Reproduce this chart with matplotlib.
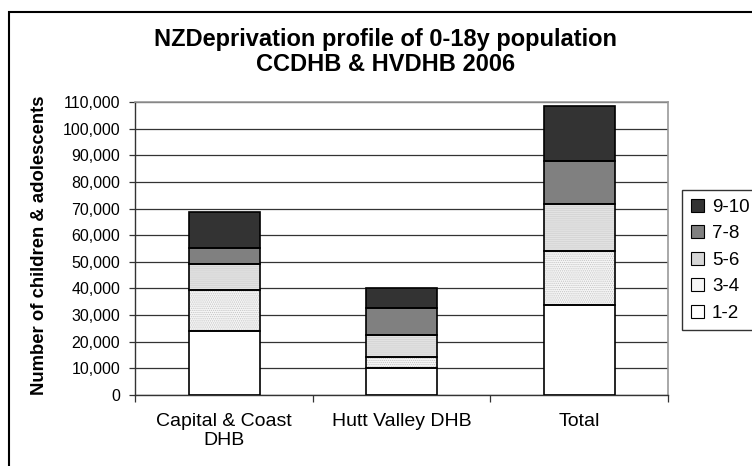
import matplotlib
matplotlib.use("Agg")
import matplotlib.pyplot as plt
import numpy as np
from matplotlib.patches import Patch, Rectangle
from matplotlib.ticker import FuncFormatter

plt.rcParams["font.family"] = ["Liberation Sans", "DejaVu Sans"]
plt.rcParams["hatch.linewidth"] = 0.6

# ------------------------------------------------------------------ data
categories = ["Capital & Coast\nDHB", "Hutt Valley DHB", "Total"]
quintiles = ["1-2", "3-4", "5-6", "7-8", "9-10"]
dep_1_2 = [24000, 9900, 33700]
dep_3_4 = [15300, 4400, 20300]
dep_5_6 = [9800, 8100, 17700]
dep_7_8 = [5900, 10300, 16300]
dep_9_10 = [13800, 7300, 20600]
y_ticks = list(range(0, 110001, 10000))

series = [dep_1_2, dep_3_4, dep_5_6, dep_7_8, dep_9_10]
# facecolor, hatch, hatch colour
styles = [
    ("white", None, None),
    ("#f6f6f6", "........", "#c4c4c4"),
    ("#d6d6d6", "--------", "#e6e6e6"),
    ("#808080", None, None),
    ("#333333", None, None),
]

fig = plt.figure(figsize=(7.52, 4.66), dpi=100)
ax = fig.add_axes([0.18, 0.153, 0.708, 0.6275])

x = np.arange(len(categories))
bottom = np.zeros(len(categories))
width = 0.40
for vals, (fc, hatch, hc) in zip(series, styles):
    vals = np.array(vals, dtype=float)
    if hatch:
        ax.bar(x, vals, width, bottom=bottom, color=fc, hatch=hatch,
               edgecolor=hc, linewidth=0, zorder=2)
    else:
        ax.bar(x, vals, width, bottom=bottom, color=fc, linewidth=0, zorder=2)
    ax.bar(x, vals, width, bottom=bottom, fill=False, edgecolor="black",
           linewidth=1.2, zorder=3)
    bottom += vals

# --------------------------------------------------------------- axes
ax.set_xlim(-0.5, 2.5)
ax.set_ylim(0, 110000)
ax.set_yticks(y_ticks)
ax.yaxis.set_major_formatter(FuncFormatter(lambda v, p: f"{int(v):,}"))
ax.yaxis.grid(True, color="#333333", linewidth=0.9, zorder=0)
ax.set_axisbelow(True)
ax.tick_params(axis="y", direction="out", length=4, width=0.9,
               color="#333333", pad=7, labelsize=11.5)

ax.set_xticks([-0.5, 0.5, 1.5, 2.5])
ax.set_xticklabels([])
ax.set_xticks(x, minor=True)
ax.set_xticklabels(categories, minor=True, fontsize=14, linespacing=1.2)
ax.tick_params(axis="x", which="major", direction="out", length=5,
               width=0.9, color="#333333")
ax.tick_params(axis="x", which="minor", length=0, pad=13)

for side in ("left", "bottom"):
    ax.spines[side].set_color("#333333")
    ax.spines[side].set_linewidth(1.0)
for side in ("top", "right"):
    ax.spines[side].set_color("#999999")
    ax.spines[side].set_linewidth(1.2)

# -------------------------------------------------------------- legend
handles = []
for name, (fc, hatch, hc) in zip(quintiles, styles):
    handles.append(Patch(facecolor=fc, edgecolor="black",
                         linewidth=0.8, label=name))
leg = fig.legend(handles[::-1], quintiles[::-1], loc="upper left",
                 bbox_to_anchor=(0.907, 0.592), fontsize=13.5,
                 frameon=True, fancybox=False, shadow=False,
                 handlelength=0.7, handleheight=0.7, handletextpad=0.45,
                 labelspacing=0.5, borderpad=0.45, borderaxespad=0)
leg.get_frame().set_edgecolor("black")
leg.get_frame().set_linewidth(1.0)

# --------------------------------------------------------------- texts
fig.text(0.513, 0.888, "NZDeprivation profile of 0-18y population\nCCDHB & HVDHB 2006",
         ha="center", va="center", fontsize=17, fontweight="bold", linespacing=1.12)
fig.text(0.053, 0.474, "Number of children & adolescents", rotation=90,
         ha="center", va="center", fontsize=13.3, fontweight="bold")

# chart border
fig.patches.append(Rectangle((8.7 / 752, -0.05), 1.1, 1.05 - 12.3 / 466,
                             transform=fig.transFigure, fill=False,
                             edgecolor="black", linewidth=1.5))

fig.savefig("out.png", dpi=100)
